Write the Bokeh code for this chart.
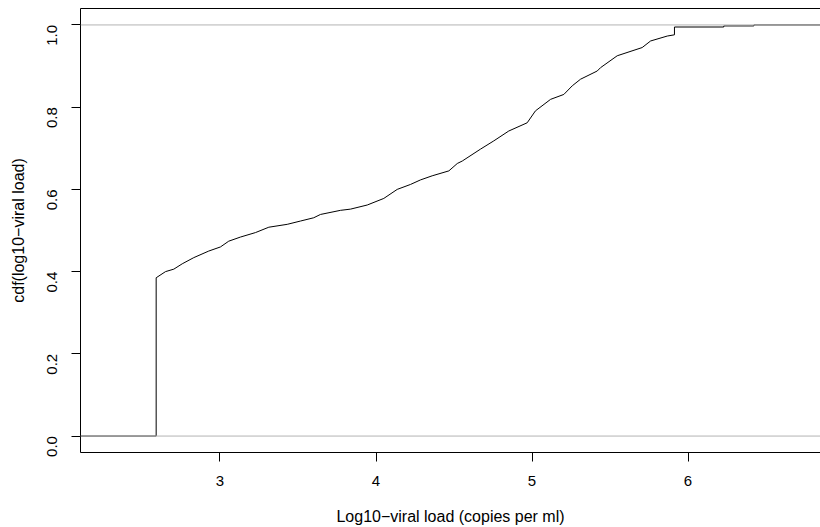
import math
from bokeh.plotting import figure
from bokeh.models import Range1d, FixedTicker, PrintfTickFormatter, LinearAxis, Span
from bokeh.embed import file_html
from bokeh.resources import INLINE

# Empirical CDF of log10 viral load, read at the knots of the step function
log_vl = [2.591, 2.651, 2.704, 2.758, 2.832, 2.928, 3.003, 3.056, 3.131, 3.228,
          3.313, 3.431, 3.516, 3.601, 3.644, 3.772, 3.837, 3.944, 4.050, 4.136,
          4.221, 4.285, 4.360, 4.467, 4.521, 4.553, 4.670, 4.755, 4.851, 4.969,
          5.022, 5.119, 5.204, 5.258, 5.311, 5.418, 5.439, 5.546, 5.706, 5.760,
          5.867, 5.913]
cdf = [0.385, 0.400, 0.406, 0.419, 0.434, 0.450, 0.460, 0.474, 0.484, 0.495,
       0.508, 0.515, 0.523, 0.531, 0.539, 0.549, 0.552, 0.562, 0.578, 0.600,
       0.612, 0.623, 0.633, 0.645, 0.663, 0.669, 0.698, 0.718, 0.742, 0.762,
       0.791, 0.819, 0.831, 0.852, 0.868, 0.888, 0.896, 0.925, 0.945, 0.961,
       0.973, 0.976]
# upper tail: a few larger steps up to 1
tail_vl = [5.913, 6.229, 6.422]
tail_cdf = [0.995, 0.9976, 1.0]

x_ticks = [3, 4, 5, 6]
y_ticks = [0.0, 0.2, 0.4, 0.6, 0.8, 1.0]

X_LO, X_HI = 2.106, 6.849
Y_LO, Y_HI = -0.04, 1.04

# build the path: flat at 0, jump at the detection limit, then the curve
xs = [X_LO - 1, log_vl[0]] + log_vl
ys = [0.0, 0.0] + cdf
prev = cdf[-1]
for xv, cv in zip(tail_vl, tail_cdf):
    xs += [xv, xv]
    ys += [prev, cv]
    prev = cv
xs.append(X_HI + 1)
ys.append(prev)

FONT = "Liberation Sans"

p = figure(width=820, height=527, output_backend="svg", toolbar_location=None,
           x_range=Range1d(X_LO, X_HI), y_range=Range1d(Y_LO, Y_HI),
           min_border_left=80, min_border_right=0, min_border_top=8,
           min_border_bottom=75, x_axis_location=None, y_axis_location=None)
p.outline_line_color = None
p.xgrid.visible = False
p.ygrid.visible = False
p.background_fill_color = "white"
p.border_fill_color = "white"

p.line(xs, ys, line_color="black", line_width=1)

for loc in (0.0, 1.0):
    p.add_layout(Span(location=loc, dimension="width", line_color="#B3B3B3",
                      line_width=1))

xaxis = LinearAxis(ticker=FixedTicker(ticks=x_ticks),
                   axis_label="Log10\u2212viral load (copies per ml)")
yaxis = LinearAxis(ticker=FixedTicker(ticks=y_ticks),
                   formatter=PrintfTickFormatter(format="%.1f"),
                   axis_label="cdf(log10\u2212viral load)",
                   major_label_orientation=math.pi / 2)
for ax in (xaxis, yaxis):
    ax.axis_line_color = "black"
    ax.axis_line_width = 1
    ax.major_tick_line_color = "black"
    ax.major_tick_out = 9
    ax.major_tick_in = 0
    ax.minor_tick_line_color = None
    ax.major_label_text_font = FONT
    ax.major_label_text_font_size = "15px"
    ax.major_label_text_color = "black"
    ax.axis_label_text_font = FONT
    ax.axis_label_text_font_size = "16px"
    ax.axis_label_text_font_style = "normal"
    ax.axis_label_text_color = "black"
xaxis.major_label_standoff = 14
xaxis.axis_label_standoff = 19
yaxis.major_label_standoff = 19
yaxis.axis_label_standoff = 13
p.add_layout(xaxis, "below")
p.add_layout(yaxis, "left")

top = LinearAxis(ticker=FixedTicker(ticks=[]), major_tick_out=0, major_tick_in=0,
                 major_label_text_font_size="0px", major_label_standoff=0,
                 minor_tick_line_color=None, axis_line_color="black")
p.add_layout(top, "above")

open("out.html", "w").write(file_html(p, INLINE))
